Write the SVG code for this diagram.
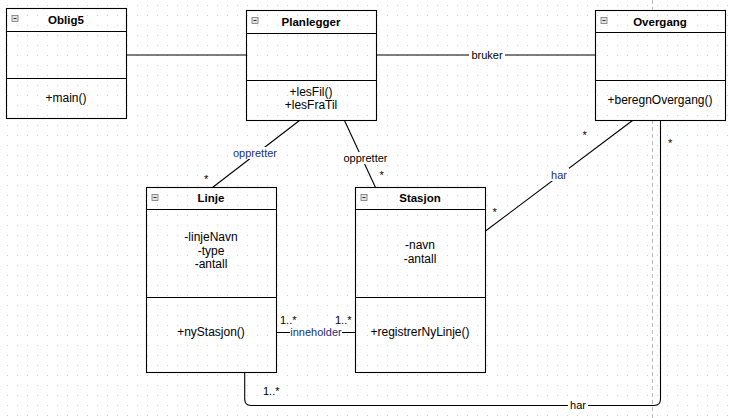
<svg xmlns="http://www.w3.org/2000/svg" width="735" height="418" viewBox="0 0 735 418">
<style>
.box{fill:none;stroke:#000;stroke-width:1.1}
.div{stroke:#000;stroke-width:1.1}
.title{font-family:"Liberation Sans",Arial,sans-serif;font-size:11.5px;font-weight:bold;fill:#000;text-anchor:middle}
.mem{font-family:"Liberation Sans",Arial,sans-serif;font-size:12px;fill:#000;text-anchor:middle}
.lbl{font-family:"Liberation Sans",Arial,sans-serif;font-size:11px;fill:#000;text-anchor:middle}
.blue{fill:#1a2f7a}
.mult{font-family:"Liberation Sans",Arial,sans-serif;font-size:11px;fill:#000}
.conn{fill:none;stroke:#000;stroke-width:1.1}
.bg{fill:#fff}
.icon{fill:#e4e4e4;stroke:#777;stroke-width:0.8}
.minus{stroke:#333;stroke-width:1}
</style>
<defs>
<pattern id="grid" x="0" y="0" width="10" height="10" patternUnits="userSpaceOnUse">
<rect x="7" y="5" width="1" height="1" fill="#cfcfcf"/>
</pattern>
</defs>
<rect width="735" height="418" fill="#fff"/>
<rect width="735" height="418" fill="url(#grid)"/>
<line x1="652.5" y1="0" x2="652.5" y2="10" stroke="#bbb" stroke-dasharray="4,3"/>
<line x1="652.5" y1="120" x2="652.5" y2="418" stroke="#bbb" stroke-dasharray="4,3"/>

<g id="connectors">
<line class="conn" x1="126" y1="55" x2="247" y2="55"/>
<line class="conn" x1="377" y1="55" x2="595" y2="55" stroke="#333"/>
<rect class="bg" x="469" y="48" width="36" height="13"/>
<text class="lbl" x="487" y="59">bruker</text>

<line class="conn" x1="299.5" y1="120.5" x2="212.5" y2="187.5"/>
<rect class="bg" x="232" y="147" width="46" height="12"/>
<text class="lbl blue" x="255" y="157">oppretter</text>
<text class="mult" x="204" y="183">*</text>

<line class="conn" x1="344.5" y1="120.5" x2="375.5" y2="187.5"/>
<rect class="bg" x="342" y="152" width="47" height="12"/>
<text class="lbl" x="365.5" y="162">oppretter</text>
<text class="mult" x="379.5" y="179">*</text>

<line class="conn" x1="632.5" y1="120.5" x2="485.5" y2="231"/>
<rect class="bg" x="550" y="168" width="19" height="13"/>
<text class="lbl blue" x="559" y="179">har</text>
<text class="mult" x="582.5" y="138.5">*</text>
<text class="mult" x="492.5" y="216">*</text>

<line class="conn" x1="277" y1="332.5" x2="356" y2="332.5"/>
<rect class="bg" x="290" y="326" width="52" height="12"/>
<text class="lbl blue" x="316" y="336">inneholder</text>
<text class="mult" x="280" y="324">1..*</text>
<text class="mult" x="335" y="324">1..*</text>

<path class="conn" d="M244.7 372.5 V399 Q244.7 405.5 251 405.5 H654 Q660.5 405.5 660.5 399 V120.5"/>
<rect class="bg" x="568" y="399" width="20" height="13"/>
<text class="lbl" x="578" y="409">har</text>
<text class="mult" x="263" y="394.5">1..*</text>
<text class="mult" x="668" y="146.5">*</text>
</g>

<g id="Oblig5">
<rect class="box" x="6.5" y="8.5" width="120" height="110"/>
<line class="div" x1="6.5" y1="31.5" x2="126.5" y2="31.5"/>
<line class="div" x1="6.5" y1="78.5" x2="126.5" y2="78.5"/>
<rect class="icon" x="12" y="15.5" width="6" height="6"/>
<line class="minus" x1="13.5" y1="18.5" x2="16.5" y2="18.5"/>
<text class="title" x="66" y="23.5">Oblig5</text>
<text class="mem" x="66" y="102">+main()</text>
</g>

<g id="Planlegger">
<rect class="box" x="246.5" y="10.5" width="130" height="110"/>
<line class="div" x1="246.5" y1="33.5" x2="376.5" y2="33.5"/>
<line class="div" x1="246.5" y1="80.5" x2="376.5" y2="80.5"/>
<rect class="icon" x="252" y="17.5" width="6" height="6"/>
<line class="minus" x1="253.5" y1="20.5" x2="256.5" y2="20.5"/>
<text class="title" x="311" y="25.5">Planlegger</text>
<text class="mem" x="311" y="96">+lesFil()</text>
<text class="mem" x="311" y="109">+lesFraTil</text>
</g>

<g id="Overgang">
<rect class="box" x="595.5" y="10.5" width="130" height="110"/>
<line class="div" x1="595.5" y1="32.5" x2="725.5" y2="32.5"/>
<line class="div" x1="595.5" y1="80.5" x2="725.5" y2="80.5"/>
<rect class="icon" x="601" y="17.5" width="6" height="6"/>
<line class="minus" x1="602.5" y1="20.5" x2="605.5" y2="20.5"/>
<text class="title" x="660" y="25.5">Overgang</text>
<text class="mem" x="660" y="104">+beregnOvergang()</text>
</g>

<g id="Linje">
<rect class="box" x="146.5" y="187.5" width="130" height="185"/>
<line class="div" x1="146.5" y1="209.5" x2="276.5" y2="209.5"/>
<line class="div" x1="146.5" y1="297.5" x2="276.5" y2="297.5"/>
<rect class="icon" x="152" y="194.5" width="6" height="6"/>
<line class="minus" x1="153.5" y1="197.5" x2="156.5" y2="197.5"/>
<text class="title" x="211" y="202">Linje</text>
<text class="mem" x="211" y="241">-linjeNavn</text>
<text class="mem" x="211" y="254.5">-type</text>
<text class="mem" x="211" y="268">-antall</text>
<text class="mem" x="211" y="336">+nyStasjon()</text>
</g>

<g id="Stasjon">
<rect class="box" x="355.5" y="187.5" width="130" height="185"/>
<line class="div" x1="355.5" y1="209.5" x2="485.5" y2="209.5"/>
<line class="div" x1="355.5" y1="297.5" x2="485.5" y2="297.5"/>
<rect class="icon" x="361" y="194.5" width="6" height="6"/>
<line class="minus" x1="362.5" y1="197.5" x2="365.5" y2="197.5"/>
<text class="title" x="420" y="202">Stasjon</text>
<text class="mem" x="420" y="249">-navn</text>
<text class="mem" x="420" y="262.5">-antall</text>
<text class="mem" x="420" y="336">+registrerNyLinje()</text>
</g>
</svg>
